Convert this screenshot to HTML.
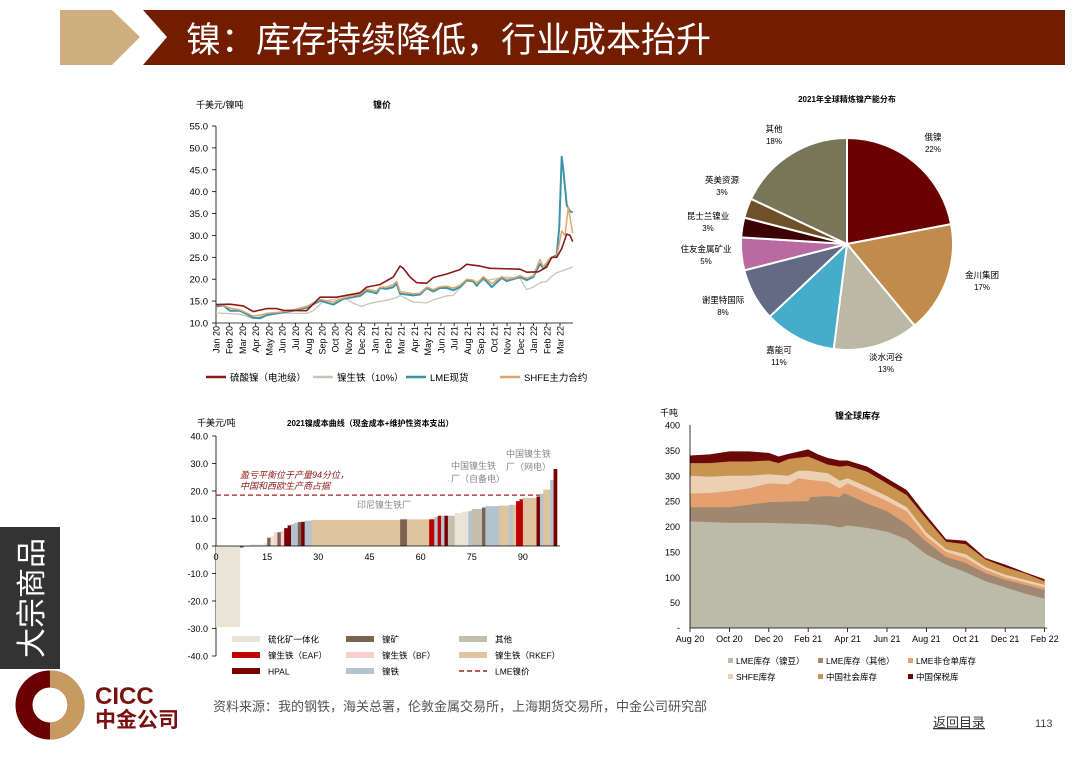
<!DOCTYPE html>
<html><head><meta charset="utf-8"><style>
body{margin:0;width:1080px;height:755px;background:#fff;overflow:hidden;font-family:"Liberation Sans","Noto Sans CJK SC",sans-serif;}
svg text{font-family:"Liberation Sans","Noto Sans CJK SC",sans-serif;}
</style></head><body>
<svg id="s" width="1080" height="755" viewBox="0 0 1080 755" xmlns="http://www.w3.org/2000/svg">
<polygon points="60,10 112,10 140,37 112,65 60,65" fill="#cfae80"/>
<polygon points="143,10 1065,10 1065,65 143,65 167,37" fill="#721c00"/>
<text x="186" y="52" font-size="35" fill="#fff">镍：库存持续降低，行业成本抬升</text>
<rect x="0" y="527" width="60" height="142" fill="#333"/>
<text transform="translate(42,598) rotate(-90)" font-size="30" fill="#fff" text-anchor="middle">大宗商品</text>
<circle cx="50" cy="705" r="26" fill="none" stroke="#6b0000" stroke-width="17"/>
<path d="M50,679 A26,26 0 0 1 50,731" fill="none" stroke="#c79a62" stroke-width="17"/>
<circle cx="50" cy="705" r="7" fill="#fff"/>
<text x="95" y="704" font-size="24" font-weight="bold" fill="#7a1010">CICC</text>
<text x="95" y="727" font-size="21" font-weight="bold" fill="#7a1010">中金公司</text>
<text x="213" y="711" font-size="13" fill="#555">资料来源：我的钢铁，海关总署，伦敦金属交易所，上海期货交易所，中金公司研究部</text>
<text x="933" y="727" font-size="13" fill="#333" text-decoration="underline">返回目录</text>
<text x="1035" y="727" font-size="11" fill="#444">113</text>
<g id="c1"></g><g id="c2"></g><g id="c3"></g><g id="c4"></g>
</svg>
<script>
const NS="http://www.w3.org/2000/svg";
function el(g,t,a,txt){const e=document.createElementNS(NS,t);for(const k in a)e.setAttribute(k,a[k]);if(txt!==undefined)e.textContent=txt;document.getElementById(g).appendChild(e);return e;}
(function(){const g="c1";const Y=v=>323-(v-10)*4.378;
el(g,"text",{x:196,y:108,"font-size":9},"千美元/镍吨");
el(g,"text",{x:373,y:108,"font-size":9,"font-weight":"bold"},"镍价");
for(let v=10;v<=55;v+=5){el(g,"text",{x:208,y:Y(v)+3.5,"font-size":9.5,"text-anchor":"end"},v.toFixed(1));el(g,"line",{x1:212,x2:216,y1:Y(v),y2:Y(v),stroke:"#000","stroke-width":0.8});}
el(g,"line",{x1:216,x2:216,y1:126,y2:323,stroke:"#000","stroke-width":0.8});
el(g,"line",{x1:216,x2:573,y1:323,y2:323,stroke:"#000","stroke-width":0.8});
const ms=["Jan","Feb","Mar","Apr","May","Jun","Jul","Aug","Sep","Oct","Nov","Dec"];
for(let m=0;m<27;m++){const x=216+m*13.23;const lab=ms[m%12]+(m<12?" 20":m<24?" 21":" 22");
el(g,"line",{x1:x,x2:x,y1:323,y2:326,stroke:"#000","stroke-width":0.8});
el(g,"text",{transform:`translate(${x+3.5},${326}) rotate(-90)`,"font-size":9,"text-anchor":"end"},lab);}
function line(d,c,w){const p=d.map((q,i)=>(i?"L":"M")+(q[0]/3+180).toFixed(1)+","+Y(q[1]).toFixed(1)).join("");el(g,"path",{d:p,fill:"none",stroke:c,"stroke-width":w,"stroke-linejoin":"round"});}
const gray=[[108,12.3],[180,12],[220,11],[260,11.8],[300,12.3],[340,12.2],[380,12.2],[400,12.8],[430,15],[470,15.5],[500,15.5],[520,14.5],[545,13.8],[570,14.5],[620,15.2],[650,15.8],[660,16.3],[700,14.8],[740,14.6],[760,15.3],[800,16.2],[820,16.3],[840,18],[860,19.5],[900,19.5],[940,20],[980,20.5],[1020,20.2],[1040,17.6],[1060,18.2],[1080,19.2],[1100,19.5],[1110,20.3],[1130,21.5],[1150,22],[1178,22.8]];
const blue=[[108,13.8],[130,14],[150,12.8],[180,12.8],[220,11.2],[240,11.1],[260,11.8],[300,12.3],[340,12.8],[380,13.5],[420,15.1],[460,14.2],[490,15.5],[540,16.2],[560,17.3],[590,16.8],[600,18],[620,17.8],[640,18.2],[650,19],[660,16.7],[700,16.3],[720,16.5],[740,18],[760,17.2],[780,18],[800,18],[820,17.5],[840,18.2],[860,19.8],[880,19.5],[890,18.5],[910,20.3],[935,18.2],[965,20.3],[980,19.6],[1000,20],[1020,20.5],[1040,19.8],[1060,20.5],[1080,23.5],[1090,22.5],[1110,24.7],[1130,25.5],[1138,32],[1145,48],[1150,45],[1160,37],[1170,35.5],[1178,35.3]];
const org=[[108,14.2],[130,14],[150,13.4],[180,13],[220,11.6],[240,11.8],[260,12.2],[300,12.5],[340,13],[380,13.8],[420,15.4],[460,14.8],[490,15.7],[540,16.6],[560,17.7],[590,17.3],[600,18.2],[620,18.2],[640,18.8],[650,19.5],[660,17.2],[700,16.7],[720,16.8],[740,18.2],[760,17.6],[780,18.3],[800,18.4],[820,18],[840,18.6],[860,20],[880,19.8],[890,19],[910,20.6],[935,19],[965,20.6],[980,20],[1000,20.2],[1020,20.8],[1040,20.2],[1060,20.8],[1080,24.5],[1090,22.8],[1110,24.8],[1130,25.2],[1145,31],[1155,30],[1165,36.5],[1178,30.5]];
const red=[[108,14.2],[150,14.3],[190,13.9],[220,12.6],[260,13.3],[290,13.3],[310,12.9],[380,12.8],[420,15.9],[470,15.9],[540,16.9],[560,18.2],[600,18.8],[640,20.5],[660,23],[670,22.5],[690,20.5],[710,19.2],[740,19.1],[760,20.4],[800,21.2],[840,22.2],[860,23.4],[900,23],[930,22.5],[1020,22.3],[1040,21.6],[1075,21.7],[1100,22.8],[1115,25],[1130,25],[1145,27],[1160,30.3],[1170,30],[1178,28.6]];
line(gray,"#c8c6b8",1.3);line(blue,"#3e93ab",2);line(org,"#dba86a",1.5);line(red,"#8b1a1a",1.6);
const lg=[[206,"#8b1a1a","硫酸镍（电池级）"],[313,"#c8c6b8","镍生铁（10%）"],[406,"#3e93ab","LME现货"],[500,"#dba86a","SHFE主力合约"]];
lg.forEach(q=>{el(g,"line",{x1:q[0],x2:q[0]+20,y1:377,y2:377,stroke:q[1],"stroke-width":2.5});el(g,"text",{x:q[0]+24,y:381,"font-size":9.5},q[2]);});
})();
(function(){const g="c2";const cx=847,cy=244,r=106;
el(g,"text",{x:847,y:102,"font-size":8,"font-weight":"bold","text-anchor":"middle"},"2021年全球精炼镍产能分布");
const d=[[22,"#6b0000","俄镍","22%",933,140],[17,"#c08b4c","金川集团","17%",982,278],[13,"#bbb8a6","淡水河谷","13%",886,360],[11,"#45adc9","嘉能可","11%",779,353],[8,"#636a84","谢里特国际","8%",723,303],[5,"#b96aa0","住友金属矿业","5%",706,252],[3,"#3d0000","昆士兰镍业","3%",708,219],[3,"#6f5028","英美资源","3%",722,183],[18,"#777659","其他","18%",774,132]];
let a=-Math.PI/2;d.forEach(q=>{const b=a+q[0]/100*2*Math.PI;const x1=cx+r*Math.cos(a),y1=cy+r*Math.sin(a),x2=cx+r*Math.cos(b),y2=cy+r*Math.sin(b);
el(g,"path",{d:`M${cx},${cy}L${x1},${y1}A${r},${r} 0 ${q[0]>50?1:0} 1 ${x2},${y2}Z`,fill:q[1],stroke:"#fff","stroke-width":2});a=b;
el(g,"text",{x:q[4],y:q[5],"font-size":8.5,"text-anchor":"middle"},q[2]);el(g,"text",{x:q[4],y:q[5]+12,"font-size":8,"text-anchor":"middle"},q[3]);});
})();
(function(){const g="c3";const Y=v=>546-v*2.75,X=u=>216+u*3.41;
el(g,"text",{x:197,y:426,"font-size":9},"千美元/吨");
el(g,"text",{x:287,y:426,"font-size":8,"font-weight":"bold"},"2021镍成本曲线（现金成本+维护性资本支出）");
for(let v=-40;v<=40;v+=10){el(g,"text",{x:208,y:Y(v)+3.5,"font-size":9,"text-anchor":"end"},v.toFixed(1));el(g,"line",{x1:212,x2:216,y1:Y(v),y2:Y(v),stroke:"#000","stroke-width":0.8});}
el(g,"line",{x1:216,x2:216,y1:436,y2:656,stroke:"#000","stroke-width":0.8});
const C={s:"#e8e4d8",b:"#7a6450",o:"#c2bfae",r:"#c00000",p:"#f9d0d0",t:"#dfc4a2",h:"#7a0000",n:"#b3c3cf"};
const bars=[[0,7,-29.5,"s"],[7,8,-0.6,"b"],[8,10,-0.3,"s"],[10,14,0.5,"s"],[14,15,1,"s"],[15,16,3,"b"],[16,17,3.5,"s"],[17,18,5,"p"],[18,19,5,"b"],[19,20,5.5,"p"],[20,21,6.5,"h"],[21,22,7.5,"h"],[22,23,8,"n"],[23,24,8.5,"n"],[24,25,8.7,"b"],[25,26,8.8,"h"],[26,28,9.2,"n"],[28,54,9.5,"t"],[54,56,9.7,"b"],[56,62.5,9.7,"t"],[62.5,64,9.7,"r"],[64,65,10.5,"n"],[65,66,11,"r"],[66,67,11,"n"],[67,68,11,"h"],[68,70,11,"o"],[70,72,12,"s"],[72,74,12.5,"s"],[74,75,12.7,"n"],[75,78,13.5,"o"],[78,79,14,"b"],[79,83,14.5,"n"],[83,86,14.7,"t"],[86,87,15,"n"],[87,88,15,"t"],[88,89,16.3,"r"],[89,90,17,"r"],[90,94,17.5,"t"],[94,95,18,"h"],[95,96,19,"n"],[96,98,20.5,"t"],[98,99,24,"n"],[99,100,28,"h"]];
bars.forEach(q=>{const y0=Y(Math.max(q[2],0)),y1=Y(Math.min(q[2],0));el(g,"rect",{x:X(q[0]),y:y0,width:X(q[1])-X(q[0])+0.3,height:y1-y0,fill:C[q[3]]});});
el(g,"line",{x1:216,x2:560,y1:546,y2:546,stroke:"#000","stroke-width":0.8});
[0,15,30,45,60,75,90].forEach(u=>el(g,"text",{x:X(u),y:560,"font-size":9,"text-anchor":"middle"},u));
el(g,"line",{x1:216,x2:X(95),y1:Y(18.5),y2:Y(18.5),stroke:"#a02020","stroke-width":1.2,"stroke-dasharray":"5,3"});
el(g,"text",{x:240,y:478,"font-size":9,fill:"#8b1a1a","font-style":"italic"},"盈亏平衡位于产量94分位，");
el(g,"text",{x:240,y:489,"font-size":9,fill:"#8b1a1a","font-style":"italic"},"中国和西欧生产商占据");
el(g,"text",{x:357,y:508,"font-size":9,fill:"#888"},"印尼镍生铁厂");
el(g,"text",{x:451,y:469,"font-size":9,fill:"#888"},"中国镍生铁");
el(g,"text",{x:451,y:482,"font-size":9,fill:"#888"},"厂（自备电）");
el(g,"text",{x:506,y:457,"font-size":9,fill:"#888"},"中国镍生铁");
el(g,"text",{x:506,y:470,"font-size":9,fill:"#888"},"厂（网电）");
const lg=[[232,639,"s","硫化矿一体化"],[346,639,"b","镍矿"],[459,639,"o","其他"],[232,655,"r","镍生铁（EAF）"],[346,655,"p","镍生铁（BF）"],[459,655,"t","镍生铁（RKEF）"],[232,671,"h","HPAL"],[346,671,"n","镍铁"]];
lg.forEach(q=>{el(g,"rect",{x:q[0],y:q[1]-3,width:28,height:6,fill:C[q[2]]});el(g,"text",{x:q[0]+36,y:q[1]+3.5,"font-size":8.5},q[3]);});
el(g,"line",{x1:459,x2:487,y1:671,y2:671,stroke:"#a02020","stroke-width":1.5,"stroke-dasharray":"5,3"});el(g,"text",{x:495,y:674.5,"font-size":8.5},"LME镍价");
})();
(function(){const g="c4";const Y=v=>628-v*0.5075,X=m=>690+m*19.7;
el(g,"text",{x:660,y:416,"font-size":9},"千吨");
el(g,"text",{x:835,y:419,"font-size":9,"font-weight":"bold"},"镍全球库存");
for(let v=50;v<=400;v+=50){el(g,"text",{x:680,y:Y(v)+3.5,"font-size":9,"text-anchor":"end"},v);}
el(g,"text",{x:680,y:631,"font-size":9,"text-anchor":"end"},"-");
const L=[
["#6b0808",[[0,340],[1,342],[2,348],[3,348],[4,345],[4.5,338],[5,343],[6,352],[6.5,342],[7,335],[7.6,330],[8,330],[9,318],[10,295],[11,272],[12,222],[13,175],[14,172],[15,138],[16,125],[17,110],[18,96]]],
["#c99450",[[0,325],[1,325],[2,328],[3,328],[4,330],[4.5,325],[5,333],[6,338],[6.5,330],[7,322],[7.6,318],[8,320],[9,308],[10,285],[11,262],[12,215],[13,170],[14,165],[15,135],[16,120],[17,108],[18,92]]],
["#ecd0b4",[[0,300],[1,298],[2,300],[3,300],[4,303],[5,300],[5.5,310],[6,310],[7,305],[7.6,290],[8,295],[9,278],[10,260],[11,238],[12,188],[13,155],[14,145],[15,120],[16,105],[17,95],[18,85]]],
["#e5a070",[[0,265],[1,266],[2,270],[3,275],[4,285],[5,283],[5.5,295],[6,292],[7,288],[7.6,275],[8,285],[9,268],[10,250],[11,230],[12,180],[13,150],[14,138],[15,115],[16,100],[17,90],[18,80]]],
["#a08870",[[0,238],[2,238],[3,243],[4,248],[6,250],[6.1,258],[7,260],[7.6,258],[7.8,265],[8,263],[9,245],[10,230],[11,205],[12,170],[13,140],[14,128],[15,108],[16,95],[17,85],[18,75]]],
["#bcbaa8",[[0,210],[2,207],[4,207],[6,205],[7,203],[7.6,198],[8,202],[9,197],[10,190],[11,175],[12,145],[13,125],[14,110],[15,92],[16,80],[17,68],[18,58]]]];
L.forEach(q=>{const p="M"+X(0)+","+Y(0)+q[1].map(a=>"L"+X(a[0]).toFixed(1)+","+Y(a[1]).toFixed(1)).join("")+"L"+X(18)+","+Y(0)+"Z";el(g,"path",{d:p,fill:q[0]});});
el(g,"line",{x1:690,x2:690,y1:425,y2:628,stroke:"#000","stroke-width":0.8});
el(g,"line",{x1:690,x2:1047,y1:628,y2:628,stroke:"#000","stroke-width":0.8});
["Aug 20","Oct 20","Dec 20","Feb 21","Apr 21","Jun 21","Aug 21","Oct 21","Dec 21","Feb 22"].forEach((t,i)=>{const x=X(i*2);el(g,"line",{x1:x,x2:x,y1:628,y2:632,stroke:"#000","stroke-width":0.8});el(g,"text",{x:x,y:642,"font-size":9,"text-anchor":"middle"},t);});
const lg=[[728,661,"#bcbaa8","LME库存（镍豆）"],[818,661,"#a08870","LME库存（其他）"],[908,661,"#e5a070","LME非仓单库存"],[728,677,"#ecd0b4","SHFE库存"],[818,677,"#c99450","中国社会库存"],[908,677,"#6b0808","中国保税库"]];
lg.forEach(q=>{el(g,"rect",{x:q[0],y:q[1]-3,width:5,height:5,fill:q[2]});el(g,"text",{x:q[0]+8,y:q[1]+3,"font-size":8.5},q[3]);});
})();
</script>
</body></html>
